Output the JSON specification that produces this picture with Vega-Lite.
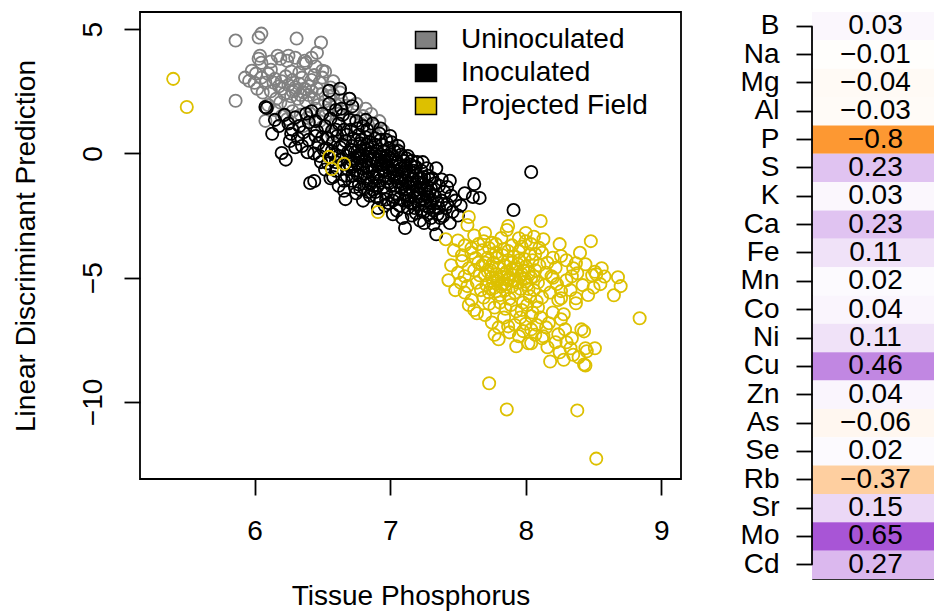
{
"$schema": "https://vega.github.io/schema/vega-lite/v6.json",
"background": "white",
"padding": {"left": 11, "top": 11, "right": 0, "bottom": 0},
"bounds": "flush",
"spacing": 131,
"config": {"font": "Liberation Sans", "axis": {"labelColor": "black", "titleColor": "black", "tickColor": "black", "titleFontWeight": "normal", "grid": false, "domain": false},
"legend": {"title": null, "orient": "none", "legendX": 272, "legendY": 14, "padding": 0, "rowPadding": 5, "labelFontSize": 28, "labelColor": "black", "labelOffset": 21, "labelLimit": 0, "symbolType": "M-1,-0.8H1V0.8H-1Z", "symbolSize": 441, "symbolStrokeColor": "black", "symbolStrokeWidth": 1.5, "symbolOpacity": 1}},
"datasets": {
"uninoculated": [
{"x":5.86,"y":4.54},{"x":6.03,"y":4.66},{"x":6.05,"y":4.82},{"x":6.31,"y":4.62},{"x":6.49,"y":4.46},{"x":6.46,"y":4.05},{"x":5.86,"y":2.12},
{"x":6.04,"y":3.93},{"x":6.03,"y":3.81},{"x":6.05,"y":3.65},{"x":6.17,"y":3.93},{"x":6.19,"y":3.81},{"x":6.25,"y":3.93},{"x":6.24,"y":3.73},{"x":6.37,"y":3.73},{"x":6.36,"y":3.61},{"x":6.38,"y":3.65},{"x":6.5,"y":3.33},{"x":6.52,"y":3.29},{"x":6.45,"y":3.5},{"x":6.42,"y":3.85},{"x":6.12,"y":3.7},{"x":6.3,"y":3.85},
{"x":5.98,"y":3.33},{"x":6.01,"y":3.21},{"x":5.96,"y":2.92},{"x":6.0,"y":2.84},{"x":6.05,"y":3.05},{"x":6.08,"y":2.84},{"x":6.1,"y":3.2},{"x":6.12,"y":3.37},{"x":5.93,"y":3.05},{"x":6.02,"y":2.6},{"x":6.06,"y":2.45},
{"x":6.15,"y":3.0},{"x":6.18,"y":2.7},{"x":6.2,"y":2.9},{"x":6.23,"y":3.1},{"x":6.25,"y":2.75},{"x":6.28,"y":2.95},{"x":6.3,"y":2.55},{"x":6.33,"y":2.8},{"x":6.35,"y":3.05},{"x":6.22,"y":2.4},{"x":6.27,"y":2.3},{"x":6.32,"y":2.2},{"x":6.36,"y":2.45},{"x":6.4,"y":2.7},{"x":6.42,"y":2.95},{"x":6.38,"y":2.1},{"x":6.16,"y":2.2},{"x":6.12,"y":2.5},{"x":6.19,"y":2.05},{"x":6.25,"y":1.95},{"x":6.4,"y":2.35},{"x":6.44,"y":2.2},{"x":6.46,"y":2.6},{"x":6.48,"y":2.85},{"x":6.5,"y":2.4},{"x":6.52,"y":2.1},{"x":6.47,"y":1.95},{"x":6.55,"y":2.3},{"x":6.56,"y":2.65},{"x":6.58,"y":2.9},{"x":6.33,"y":3.25},{"x":6.27,"y":3.3},{"x":6.44,"y":3.15},{"x":6.5,"y":3.05},{"x":6.14,"y":2.85},{"x":6.3,"y":2.65},{"x":6.37,"y":2.6},{"x":6.42,"y":2.5},{"x":6.28,"y":2.5},{"x":6.2,"y":2.6},{"x":6.34,"y":2.35},
{"x":6.08,"y":1.31},{"x":6.2,"y":1.5},{"x":6.24,"y":1.38},{"x":6.28,"y":1.7},{"x":6.34,"y":1.55},{"x":6.39,"y":1.43},{"x":6.41,"y":1.6},{"x":6.45,"y":1.8},{"x":6.52,"y":1.5},{"x":6.55,"y":1.75},{"x":6.6,"y":1.95},{"x":6.62,"y":1.6},{"x":6.64,"y":2.15},{"x":6.68,"y":1.92},{"x":6.7,"y":1.4},{"x":6.73,"y":1.7},{"x":6.78,"y":1.2},{"x":6.8,"y":1.5},{"x":6.86,"y":1.59},{"x":6.84,"y":0.95},{"x":6.88,"y":1.1},{"x":6.9,"y":0.7},{"x":6.95,"y":0.9},{"x":7.04,"y":0.18},{"x":6.75,"y":0.55},{"x":6.65,"y":0.85},{"x":6.6,"y":1.2},{"x":6.5,"y":1.05},{"x":6.57,"y":0.75},{"x":6.7,"y":2.2},{"x":6.63,"y":2.45},{"x":6.48,"y":1.3},{"x":6.36,"y":1.1},{"x":6.15,"y":1.75},{"x":6.1,"y":1.95},{"x":6.58,"y":2.35},{"x":6.75,"y":2.0},{"x":6.82,"y":1.8},{"x":6.92,"y":1.3},{"x":6.98,"y":0.5}
],
"inoculated": [
{"x":6.09,"y":1.83},{"x":6.08,"y":1.87},{"x":6.13,"y":0.79},{"x":6.2,"y":0.02},{"x":6.27,"y":0.79},{"x":6.41,"y":-1.19},{"x":6.44,"y":-1.11},{"x":6.15,"y":1.35},{"x":6.18,"y":1.1},{"x":6.22,"y":1.55},{"x":6.25,"y":1.2},{"x":6.28,"y":0.95},{"x":6.3,"y":1.45},{"x":6.32,"y":0.6},{"x":6.33,"y":1.1},{"x":6.35,"y":0.3},{"x":6.36,"y":0.85},{"x":6.38,"y":1.6},{"x":6.39,"y":0.05},{"x":6.4,"y":0.55},{"x":6.4,"y":1.25},{"x":6.3,"y":0.25},{"x":6.26,"y":0.5},{"x":6.23,"y":-0.25},
{"x":6.42,"y":1.7},{"x":6.45,"y":1.3},{"x":6.46,"y":0.9},{"x":6.47,"y":0.4},{"x":6.48,"y":-0.1},{"x":6.5,"y":1.6},{"x":6.5,"y":0.65},{"x":6.52,"y":1.1},{"x":6.53,"y":0.2},{"x":6.54,"y":-0.4},{"x":6.55,"y":2.52},{"x":6.56,"y":1.4},{"x":6.57,"y":0.9},{"x":6.58,"y":0.45},{"x":6.59,"y":-0.05},{"x":6.6,"y":1.75},{"x":6.6,"y":-0.7},{"x":6.61,"y":0.7},{"x":6.62,"y":1.2},{"x":6.63,"y":2.6},{"x":6.63,"y":0.25},{"x":6.64,"y":-0.25},{"x":6.65,"y":1.55},{"x":6.66,"y":0.95},{"x":6.67,"y":-1.84},{"x":6.67,"y":0.5},{"x":6.68,"y":-0.9},{"x":6.69,"y":0.05},{"x":6.7,"y":1.35},{"x":6.7,"y":-0.45},{"x":6.44,"y":0.0},{"x":6.52,"y":-0.65},{"x":6.56,"y":-1.0},{"x":6.62,"y":-1.3},{"x":6.66,"y":-1.5},{"x":6.58,"y":-0.95},{"x":6.49,"y":-0.35},{"x":6.51,"y":0.15},{"x":6.45,"y":0.7},{"x":6.68,"y":0.75},{"x":6.64,"y":1.8},{"x":6.55,"y":2.0},{"x":6.7,"y":2.2},{"x":6.72,"y":1.9},
{"x":6.71,"y":0.95},{"x":6.72,"y":0.3},{"x":6.72,"y":-1.1},{"x":6.73,"y":-0.2},{"x":6.73,"y":0.6},{"x":6.74,"y":-0.7},{"x":6.75,"y":1.3},{"x":6.75,"y":-1.6},{"x":6.76,"y":0.1},{"x":6.76,"y":-0.4},{"x":6.77,"y":0.75},{"x":6.77,"y":-1.25},{"x":6.78,"y":-0.9},{"x":6.78,"y":0.4},{"x":6.79,"y":-0.1},{"x":6.8,"y":1.1},{"x":6.8,"y":-0.6},{"x":6.8,"y":-1.9},{"x":6.81,"y":0.2},{"x":6.81,"y":-1.4},{"x":6.82,"y":-0.3},{"x":6.82,"y":0.65},{"x":6.83,"y":-1.0},{"x":6.83,"y":0.95},{"x":6.84,"y":-0.75},{"x":6.84,"y":0.0},{"x":6.85,"y":-1.7},{"x":6.85,"y":0.45},{"x":6.86,"y":-0.5},{"x":6.86,"y":-1.2},{"x":6.87,"y":0.25},{"x":6.87,"y":1.2},{"x":6.88,"y":-0.2},{"x":6.88,"y":-0.95},{"x":6.89,"y":0.6},{"x":6.89,"y":-1.55},{"x":6.9,"y":-0.4},{"x":6.9,"y":0.1},{"x":6.91,"y":-2.2},{"x":6.91,"y":-0.75},{"x":6.92,"y":0.8},{"x":6.92,"y":-1.1},{"x":6.93,"y":-0.05},{"x":6.93,"y":-1.85},{"x":6.94,"y":0.35},{"x":6.94,"y":-0.6},{"x":6.95,"y":-1.35},{"x":6.95,"y":0.1},{"x":6.96,"y":-0.3},{"x":6.96,"y":-0.9},{"x":6.97,"y":0.55},{"x":6.97,"y":-1.6},{"x":6.98,"y":-0.55},{"x":6.98,"y":-1.15},{"x":6.99,"y":0.2},{"x":6.99,"y":-2.0},{"x":7.0,"y":-0.8},{"x":7.0,"y":-0.2},{"x":6.74,"y":0.05},{"x":6.79,"y":-0.45},{"x":6.83,"y":-0.55},{"x":6.87,"y":-0.7},{"x":6.9,"y":-1.0},{"x":6.94,"y":-0.15},{"x":6.97,"y":-0.35},{"x":6.72,"y":-0.3},{"x":6.76,"y":-0.85},{"x":6.82,"y":0.15},{"x":6.86,"y":0.05},{"x":6.88,"y":-1.3},{"x":6.91,"y":-0.25},{"x":6.95,"y":-0.7},{"x":6.99,"y":-1.0},{"x":6.71,"y":-0.55},{"x":6.78,"y":-0.2},{"x":6.84,"y":-1.25},{"x":6.89,"y":-0.05},{"x":6.93,"y":-0.45},{"x":6.98,"y":-0.1},
{"x":7.01,"y":0.45},{"x":7.01,"y":-1.3},{"x":7.02,"y":-0.5},{"x":7.02,"y":-1.9},{"x":7.03,"y":0.1},{"x":7.03,"y":-0.95},{"x":7.04,"y":-1.6},{"x":7.04,"y":-0.25},{"x":7.05,"y":-2.3},{"x":7.05,"y":-0.7},{"x":7.06,"y":0.3},{"x":7.06,"y":-1.15},{"x":7.07,"y":-0.45},{"x":7.07,"y":-1.8},{"x":7.08,"y":-0.05},{"x":7.08,"y":-1.4},{"x":7.09,"y":-0.85},{"x":7.09,"y":-2.6},{"x":7.1,"y":-1.9},{"x":7.1,"y":-0.3},{"x":7.11,"y":-3.0},{"x":7.11,"y":-1.1},{"x":7.12,"y":-0.6},{"x":7.12,"y":-1.65},{"x":7.13,"y":-2.2},{"x":7.13,"y":-0.1},{"x":7.14,"y":-1.35},{"x":7.14,"y":-0.85},{"x":7.15,"y":-2.0},{"x":7.15,"y":-0.45},{"x":7.16,"y":-1.05},{"x":7.16,"y":-2.5},{"x":7.17,"y":-1.55},{"x":7.17,"y":-0.7},{"x":7.18,"y":-1.25},{"x":7.18,"y":-2.2},{"x":7.19,"y":-0.9},{"x":7.19,"y":-1.8},{"x":7.2,"y":-0.35},{"x":7.2,"y":-1.45},{"x":7.21,"y":-2.05},{"x":7.21,"y":-1.0},{"x":7.22,"y":-2.7},{"x":7.22,"y":-1.6},{"x":7.23,"y":-0.7},{"x":7.23,"y":-2.3},{"x":7.24,"y":-1.2},{"x":7.24,"y":-1.85},{"x":7.25,"y":-2.8},{"x":7.25,"y":-0.95},{"x":7.26,"y":-1.5},{"x":7.26,"y":-2.1},{"x":7.27,"y":-0.6},{"x":7.27,"y":-1.3},{"x":7.28,"y":-2.45},{"x":7.28,"y":-1.75},{"x":7.29,"y":-1.05},{"x":7.3,"y":-2.6},{"x":7.3,"y":-2.0},{"x":7.3,"y":-1.4},{"x":7.02,"y":-0.75},{"x":7.05,"y":-1.0},{"x":7.08,"y":-0.6},{"x":7.11,"y":-1.45},{"x":7.14,"y":-1.7},{"x":7.17,"y":-1.2},{"x":7.2,"y":-1.15},{"x":7.23,"y":-1.4},{"x":7.26,"y":-1.9},{"x":7.29,"y":-1.55},{"x":7.04,"y":-1.3},{"x":7.07,"y":-1.0},{"x":7.1,"y":-0.75},{"x":7.13,"y":-1.2},{"x":7.16,"y":-0.3},{"x":7.19,"y":-2.4},
{"x":7.31,"y":-1.0},{"x":7.32,"y":-2.3},{"x":7.33,"y":-1.7},{"x":7.34,"y":-3.25},{"x":7.35,"y":-2.0},{"x":7.36,"y":-1.3},{"x":7.37,"y":-2.6},{"x":7.38,"y":-1.9},{"x":7.39,"y":-2.52},{"x":7.4,"y":-1.55},{"x":7.41,"y":-2.2},{"x":7.42,"y":-1.35},{"x":7.42,"y":-2.04},{"x":7.44,"y":-2.8},{"x":7.45,"y":-1.7},{"x":7.46,"y":-2.35},{"x":7.48,"y":-1.9},{"x":7.5,"y":-2.5},{"x":7.52,"y":-2.1},{"x":7.55,"y":-1.6},{"x":7.61,"y":-1.75},{"x":7.66,"y":-1.79},{"x":7.62,"y":-1.23},{"x":7.91,"y":-2.28},{"x":8.04,"y":-0.75},{"x":7.34,"y":-0.6},{"x":7.38,"y":-1.05},{"x":7.32,"y":-2.85},{"x":7.36,"y":-2.2},{"x":7.44,"y":-1.1},
{"x":6.62,"y":-0.1},{"x":6.65,"y":0.35},{"x":6.68,"y":-0.6},{"x":6.71,"y":0.15},{"x":6.74,"y":-1.35},{"x":6.77,"y":-0.05},{"x":6.79,"y":0.55},{"x":6.81,"y":-0.8},{"x":6.83,"y":0.35},{"x":6.85,"y":-0.25},{"x":6.87,"y":-1.45},{"x":6.89,"y":0.35},{"x":6.91,"y":-1.3},{"x":6.93,"y":0.55},{"x":6.95,"y":-0.45},{"x":6.97,"y":-1.85},{"x":6.99,"y":-0.6},{"x":7.01,"y":-0.05},{"x":7.03,"y":-1.75},{"x":7.05,"y":-0.35},{"x":7.07,"y":-2.1},{"x":7.09,"y":-1.2},{"x":7.11,"y":-0.5},{"x":7.13,"y":-1.9},{"x":7.15,"y":-1.2},{"x":7.17,"y":-2.0},{"x":7.19,"y":-0.55},{"x":7.21,"y":-1.75},{"x":7.23,"y":-1.0},{"x":7.25,"y":-2.35},{"x":7.27,"y":-1.65},{"x":7.29,"y":-2.2},{"x":7.31,"y":-1.9},{"x":7.33,"y":-1.2},{"x":7.35,"y":-2.45},{"x":7.02,"y":-2.45},{"x":6.96,"y":-2.1},{"x":6.9,"y":-1.75},{"x":6.84,"y":-1.55},{"x":6.78,"y":-1.45},{"x":6.72,"y":-0.9},{"x":6.66,"y":-1.1},{"x":6.6,"y":-0.35},{"x":6.57,"y":0.1},{"x":6.54,"y":0.6},{"x":6.6,"y":0.95},{"x":6.76,"y":1.0},{"x":6.82,"y":1.35},{"x":6.93,"y":1.0},{"x":7.0,"y":0.7},{"x":7.06,"y":0.1},{"x":7.12,"y":-0.2},{"x":7.18,"y":-0.55},{"x":7.24,"y":-0.35},{"x":7.28,"y":-0.9}
],
"field": [
{"x":5.4,"y":3.0},{"x":5.5,"y":1.87},{"x":6.55,"y":-0.14},{"x":6.57,"y":-0.63},{"x":6.66,"y":-0.42},{"x":6.91,"y":-2.36},{"x":7.73,"y":-9.25},{"x":7.86,"y":-10.3},{"x":8.38,"y":-10.34},{"x":8.52,"y":-12.28},{"x":8.84,"y":-6.63},{"x":7.43,"y":-5.1},{"x":7.64,"y":-6.43},{"x":7.41,"y":-3.45},{"x":8.48,"y":-3.53},{"x":8.11,"y":-2.72},{"x":7.58,"y":-2.56},{"x":7.57,"y":-2.88},{"x":7.87,"y":-2.92},{"x":7.86,"y":-3.08},
{"x":7.73,"y":-3.81},{"x":7.78,"y":-3.65},{"x":7.87,"y":-3.93},{"x":7.95,"y":-3.41},{"x":8.0,"y":-3.53},{"x":8.04,"y":-3.65},{"x":8.07,"y":-4.05},{"x":8.13,"y":-3.45},{"x":7.6,"y":-3.81},{"x":7.65,"y":-3.65},{"x":7.69,"y":-3.53},{"x":7.63,"y":-4.21},{"x":7.58,"y":-4.62},{"x":7.55,"y":-4.94},{"x":7.57,"y":-5.34},{"x":7.53,"y":-4.33},
{"x":7.68,"y":-4.5},{"x":7.7,"y":-4.9},{"x":7.71,"y":-5.3},{"x":7.72,"y":-4.2},{"x":7.73,"y":-5.6},{"x":7.74,"y":-4.7},{"x":7.75,"y":-5.0},{"x":7.76,"y":-4.4},{"x":7.77,"y":-5.4},{"x":7.78,"y":-4.85},{"x":7.79,"y":-5.15},{"x":7.8,"y":-4.6},{"x":7.81,"y":-5.7},{"x":7.82,"y":-4.95},{"x":7.83,"y":-5.25},{"x":7.84,"y":-4.5},{"x":7.85,"y":-5.5},{"x":7.86,"y":-4.75},{"x":7.87,"y":-5.1},{"x":7.88,"y":-5.85},{"x":7.89,"y":-4.4},{"x":7.9,"y":-5.35},{"x":7.91,"y":-4.9},{"x":7.92,"y":-5.6},{"x":7.93,"y":-4.65},{"x":7.94,"y":-5.2},{"x":7.95,"y":-4.3},{"x":7.96,"y":-5.45},{"x":7.97,"y":-4.85},{"x":7.98,"y":-6.0},{"x":7.99,"y":-5.05},{"x":8.0,"y":-4.55},{"x":8.01,"y":-5.3},{"x":8.02,"y":-4.8},{"x":8.03,"y":-5.75},{"x":8.04,"y":-5.0},{"x":8.05,"y":-4.3},{"x":8.06,"y":-5.5},{"x":8.07,"y":-4.7},{"x":8.08,"y":-5.95},{"x":8.09,"y":-5.2},{"x":8.1,"y":-4.5},{"x":7.72,"y":-4.75},{"x":7.76,"y":-5.2},{"x":7.8,"y":-5.05},{"x":7.84,"y":-4.85},{"x":7.88,"y":-5.0},{"x":7.92,"y":-5.1},{"x":7.96,"y":-4.95},{"x":8.0,"y":-5.15},{"x":7.74,"y":-5.45},{"x":7.78,"y":-5.55},{"x":7.82,"y":-5.35},{"x":7.86,"y":-5.25},{"x":7.9,"y":-4.65},{"x":7.94,"y":-4.45},{"x":7.98,"y":-4.7},{"x":8.02,"y":-5.45},{"x":8.06,"y":-4.95},{"x":7.7,"y":-4.4},{"x":7.75,"y":-4.55},{"x":7.79,"y":-4.2},{"x":7.83,"y":-4.1},{"x":7.87,"y":-4.3},{"x":7.91,"y":-4.15},{"x":7.95,"y":-3.95},{"x":7.99,"y":-4.25},{"x":8.03,"y":-4.05},{"x":7.66,"y":-4.9},{"x":7.64,"y":-5.2},{"x":7.62,"y":-4.7},{"x":7.67,"y":-5.5},{"x":7.69,"y":-5.8},{"x":7.73,"y":-6.05},{"x":7.77,"y":-6.2},{"x":7.81,"y":-6.0},{"x":7.85,"y":-6.25},{"x":7.89,"y":-6.1},{"x":7.93,"y":-6.35},{"x":7.97,"y":-6.3},{"x":8.01,"y":-6.1},{"x":8.05,"y":-6.4},{"x":8.09,"y":-6.2},{"x":8.12,"y":-5.8},{"x":8.14,"y":-5.3},{"x":8.15,"y":-4.8},{"x":8.16,"y":-4.4},{"x":8.12,"y":-4.0},{"x":8.18,"y":-5.6},{"x":8.2,"y":-5.0},{"x":8.22,"y":-4.6},{"x":8.1,"y":-3.8},
{"x":7.45,"y":-4.5},{"x":7.5,"y":-4.8},{"x":7.52,"y":-5.2},{"x":7.48,"y":-5.5},{"x":7.55,"y":-5.6},{"x":7.6,"y":-5.9},{"x":7.58,"y":-6.1},{"x":7.62,"y":-6.3},{"x":7.53,"y":-4.1},{"x":7.47,"y":-3.9},{"x":7.6,"y":-4.0},{"x":7.65,"y":-4.4},{"x":7.55,"y":-3.7},{"x":7.5,"y":-3.5},{"x":7.62,"y":-3.3},{"x":7.7,"y":-3.2},{"x":7.68,"y":-3.9},{"x":7.75,"y":-3.6},{"x":7.82,"y":-3.4},{"x":7.84,"y":-3.85},{"x":7.78,"y":-4.0},{"x":7.9,"y":-3.7},{"x":7.97,"y":-3.75},{"x":8.0,"y":-3.2},{"x":8.06,"y":-3.35},
{"x":7.7,"y":-6.5},{"x":7.75,"y":-6.8},{"x":7.8,"y":-7.0},{"x":7.84,"y":-6.6},{"x":7.88,"y":-7.2},{"x":7.92,"y":-6.9},{"x":7.96,"y":-6.6},{"x":8.0,"y":-6.85},{"x":8.04,"y":-6.55},{"x":8.08,"y":-6.9},{"x":8.11,"y":-6.6},{"x":8.15,"y":-7.0},{"x":8.2,"y":-6.4},{"x":8.22,"y":-7.6},{"x":8.25,"y":-8.0},{"x":8.3,"y":-7.6},{"x":8.35,"y":-8.1},{"x":8.39,"y":-8.2},{"x":7.98,"y":-7.15},{"x":8.07,"y":-7.3},{"x":8.16,"y":-7.8},{"x":8.28,"y":-8.3},{"x":7.77,"y":-7.3},
{"x":8.25,"y":-3.65},{"x":8.26,"y":-4.13},{"x":8.68,"y":-4.98},{"x":8.7,"y":-5.34},{"x":8.65,"y":-5.71},{"x":8.51,"y":-4.76},{"x":8.49,"y":-4.9},{"x":8.52,"y":-4.86},{"x":8.56,"y":-4.62},{"x":8.44,"y":-4.46},{"x":8.37,"y":-4.42},{"x":8.35,"y":-4.62},{"x":8.38,"y":-4.82},{"x":8.34,"y":-4.94},{"x":8.55,"y":-5.26},{"x":8.37,"y":-5.83},{"x":8.37,"y":-6.03},{"x":8.19,"y":-4.94},{"x":8.23,"y":-5.26},{"x":8.26,"y":-5.54},{"x":8.26,"y":-5.83},{"x":8.28,"y":-6.47},{"x":8.26,"y":-6.67},{"x":8.29,"y":-7.08},{"x":8.3,"y":-5.1},{"x":8.33,"y":-5.5},{"x":8.42,"y":-5.3},{"x":8.46,"y":-5.7},{"x":8.5,"y":-5.4},{"x":8.58,"y":-4.95},{"x":8.3,"y":-4.3},{"x":8.4,"y":-4.0},{"x":8.2,"y":-4.2},{"x":8.24,"y":-5.9},
{"x":8.24,"y":-7.28},{"x":8.34,"y":-7.44},{"x":8.41,"y":-7.08},{"x":8.44,"y":-7.84},{"x":8.51,"y":-7.84},{"x":8.33,"y":-7.84},{"x":8.43,"y":-8.49},{"x":8.44,"y":-8.53},{"x":8.45,"y":-7.96},{"x":8.43,"y":-7.16},{"x":8.17,"y":-6.83},{"x":8.13,"y":-7.36},{"x":8.04,"y":-7.08},{"x":8.02,"y":-7.64},{"x":7.95,"y":-7.36},{"x":7.93,"y":-7.76},{"x":7.87,"y":-6.96},{"x":7.8,"y":-7.48},{"x":8.18,"y":-8.37},{"x":8.12,"y":-7.44},{"x":8.04,"y":-7.64}
],
"loadings": [
{"element":"B","loading":0.03},{"element":"Na","loading":-0.01},{"element":"Mg","loading":-0.04},{"element":"Al","loading":-0.03},{"element":"P","loading":-0.8},{"element":"S","loading":0.23},{"element":"K","loading":0.03},{"element":"Ca","loading":0.23},{"element":"Fe","loading":0.11},{"element":"Mn","loading":0.02},{"element":"Co","loading":0.04},{"element":"Ni","loading":0.11},{"element":"Cu","loading":0.46},{"element":"Zn","loading":0.04},{"element":"As","loading":-0.06},{"element":"Se","loading":0.02},{"element":"Rb","loading":-0.37},{"element":"Sr","loading":0.15},{"element":"Mo","loading":0.65},{"element":"Cd","loading":0.27}
]
},
"hconcat": [
{
"width": 541, "height": 467,
"view": {"stroke": "black", "strokeWidth": 1.8},
"encoding": {
"x": {"field": "x", "type": "quantitative", "scale": {"domain": [5.155, 9.145], "nice": false, "zero": false},
"axis": {"values": [6, 7, 8, 9], "title": "Tissue Phosphorus", "tickSize": 16, "tickWidth": 1.8, "labelFontSize": 28, "labelBaseline": "middle", "labelPadding": 36, "titleFontSize": 28, "titleBaseline": "middle", "titleY": 117}},
"y": {"field": "y", "type": "quantitative", "scale": {"domain": [-13.1, 5.69], "nice": false, "zero": false},
"axis": {"values": [-10, -5, 0, 5], "title": "Linear Discriminant Prediction", "tickSize": 16, "tickWidth": 1.8, "labelFontSize": 28, "labelAngle": -90, "labelAlign": "center", "labelBaseline": "alphabetic", "labelPadding": 23, "titleFontSize": 28, "titleAngle": -90, "titleBaseline": "alphabetic", "titleX": -106, "titleY": 233.5}}
},
"layer": [
{"data": {"name": "uninoculated"}, "mark": {"type": "point", "shape": "circle", "filled": false, "size": 150, "strokeWidth": 1.8, "opacity": 1},
"encoding": {"color": {"datum": "Uninoculated", "type": "nominal",
"scale": {"domain": ["Uninoculated", "Inoculated", "Projected Field"], "range": ["#808080", "#000000", "#DDC000"]}, "legend": null}}},
{"data": {"name": "inoculated"}, "mark": {"type": "point", "shape": "circle", "filled": false, "size": 150, "strokeWidth": 1.8, "opacity": 1},
"encoding": {"color": {"datum": "Inoculated", "type": "nominal", "legend": null}}},
{"data": {"name": "field"}, "mark": {"type": "point", "shape": "circle", "filled": false, "size": 150, "strokeWidth": 1.8, "opacity": 1},
"encoding": {"color": {"datum": "Projected Field", "type": "nominal", "legend": null}}},
{"data": {"values": []}, "mark": {"type": "point", "shape": "square", "filled": true, "opacity": 1},
"encoding": {"fill": {"datum": "Uninoculated", "type": "nominal",
"scale": {"domain": ["Uninoculated", "Inoculated", "Projected Field"], "range": ["#808080", "#000000", "#DDC000"]}, "legend": {}}}}
]
},
{
"width": 125, "height": 567,
"data": {"name": "loadings"},
"view": {"stroke": "#333333", "strokeWidth": 1},
"encoding": {
"y": {"field": "element", "type": "nominal", "sort": null,
"scale": {"domain": ["B","Na","Mg","Al","P","S","K","Ca","Fe","Mn","Co","Ni","Cu","Zn","As","Se","Rb","Sr","Mo","Cd"], "paddingInner": 0, "paddingOuter": 0},
"axis": {"title": null, "tickSize": 16, "tickWidth": 1.8, "labelFontSize": 28, "labelPadding": 17}}
},
"layer": [
{"mark": {"type": "rect"},
"encoding": {"color": {"field": "loading", "type": "quantitative", "scale": {"domain": [-0.8, 0, 0.8], "range": ["#fd9832", "#ffffff", "#942ecd"], "interpolate": "rgb"}, "legend": null}}},
{"mark": {"type": "text", "fontSize": 28, "color": "black", "dx": 1},
"encoding": {"text": {"field": "loading", "type": "quantitative", "format": ".2~f"}}},
{"data": {"values": [{}]}, "mark": {"type": "rule", "color": "black", "strokeWidth": 1.8},
"encoding": {"y": {"datum": "B", "bandPosition": 0.5}, "y2": {"datum": "Cd", "bandPosition": 0.5}, "x": {"value": 0}}}
]
}
]
}
